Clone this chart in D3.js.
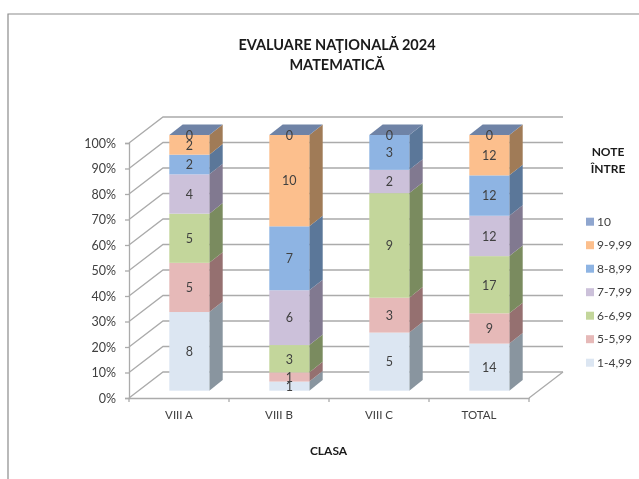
<!DOCTYPE html>
<html><head><meta charset="utf-8">
<script src="https://cdn.jsdelivr.net/npm/d3@7/dist/d3.min.js"></script>
<style>html,body{margin:0;padding:0;background:#fff}svg{display:block;font-family:Lato,"Open Sans",sans-serif;filter:blur(0.45px)}</style>
</head><body><svg id="c" width="639" height="479"></svg>
<script>
const categories = ["VIII A","VIII B","VIII C","TOTAL"];
const seriesNames = ["1-4,99","5-5,99","6-6,99","7-7,99","8-8,99","9-9,99","10"];
const s1 = [8,1,5,14];
const s5 = [5,1,3,9];
const s6 = [5,3,9,17];
const s7 = [4,6,2,12];
const s8 = [2,7,3,12];
const s9 = [2,10,null,12];
const s10 = [0,0,0,0];
const seriesValues = [s1,s5,s6,s7,s8,s9,s10];
const frontColors = ["#dce6f2","#e6b9b8","#c3d69b","#ccc1da","#8eb4e3","#fcbf8d","#8fa6cf"];
const sideColors = ["#89959f","#957070","#7a8b5f","#817990","#5b7799","#a07b57","#6f83a6"];
const legendTitle = ["NOTE","ÎNTRE"];
const titleLines = ["EVALUARE NAŢIONALĂ 2024","MATEMATICĂ"];
const xTitle = "CLASA";

const svg = d3.select("#c");
const grey = "#ababab", txt = "#404040";

// frame
svg.append("path").attr("d","M8,479V14H639").attr("fill","none").attr("stroke","#8c8c8c").attr("stroke-width",1.2);

// wall geometry
const x = d3.scaleBand().domain(categories).range([129,529]);
const y = d3.scaleLinear().domain([0,1]).range([398,143]);
const depth = {dx:34, dy:-26};
const ticks = d3.range(0,1.01,0.1);

// back wall + side wall gridlines
const grid = svg.append("g").attr("fill","none").attr("stroke",grey).attr("stroke-width",1.3);
ticks.forEach(t=>{
  grid.append("path").attr("d",`M129,${y(t)}L${129+depth.dx},${y(t)+depth.dy}H${529+depth.dx}`);
});
grid.append("path").attr("d",`M529,398L${529+depth.dx},${398+depth.dy}`);

// axes
const yAxis = d3.axisLeft(y).tickValues(ticks).tickFormat(d3.format(".0%")).tickSize(4).tickPadding(9);
const gy = svg.append("g").attr("transform","translate(129,0)").call(yAxis);
const xAxis = d3.axisBottom(x).tickValues(categories).tickSize(0).tickPadding(13);
const gx = svg.append("g").attr("transform","translate(0,398)").call(xAxis);
[gy,gx].forEach(g=>{
  g.selectAll("path.domain").attr("stroke",grey).attr("stroke-width",1.3);
  g.selectAll("line").attr("stroke",grey).attr("stroke-width",1.3);
  g.selectAll("text").attr("fill",txt);
});
gy.selectAll("text").attr("font-size",12.5).attr("font-family","Lato");
gx.selectAll("text").attr("font-size",11.5).attr("font-family","Lato");
gx.selectAll("line.boundary").data(d3.range(0,5)).enter().append("line").attr("class","boundary")
  .attr("x1",i=>129+i*x.step()).attr("x2",i=>129+i*x.step()).attr("y1",0).attr("y2",4)
  .attr("stroke",grey).attr("stroke-width",1.3);

// bars
const table = categories.map((c,i)=>{
  const o={cat:c}; seriesNames.forEach((s,j)=>o[s]=seriesValues[j][i]||0); return o;
});
const stacked = d3.stack().keys(seriesNames).offset(d3.stackOffsetExpand)(table);
const py = d3.scaleLinear().domain([0,1]).range([390.7,135]);
const bw = 40, bd = {dx:13.4, dy:-10.6};
const bx = c => x(c)+x.bandwidth()/2-9.7;
const bars = svg.append("g");
// side and front faces
stacked.forEach((layer,j)=>{
  layer.forEach(d=>{
    const c=d.data.cat, l=bx(c), r=l+bw, y0=py(d[0]), y1=py(d[1]);
    if(y0-y1<0.01) return;
    bars.append("path").attr("fill",sideColors[j])
      .attr("d",`M${r},${y0}L${r+bd.dx},${y0+bd.dy}V${y1+bd.dy}L${r},${y1}Z`);
    bars.append("rect").attr("x",l).attr("y",y1).attr("width",bw).attr("height",y0-y1).attr("fill",frontColors[j]);
  });
});
// top caps
categories.forEach(c=>{
  const l=bx(c), r=l+bw, t=py(1);
  bars.append("path").attr("fill",sideColors[6])
    .attr("d",`M${l},${t}L${l+bd.dx},${t+bd.dy}H${r+bd.dx}L${r},${t}Z`);
});
// labels
stacked.forEach((layer,j)=>{
  layer.forEach((d,i)=>{
    if(seriesValues[j][i]===null) return;
    bars.append("text").attr("x",bx(d.data.cat)+bw/2).attr("y",py((d[0]+d[1])/2)+4.8)
      .attr("text-anchor","middle").attr("font-size",12.5).attr("fill",txt)
      .text(seriesValues[j][i]);
  });
});

// titles
svg.append("g").selectAll("text").data(titleLines).enter().append("text")
  .attr("x",337).attr("y",(d,i)=>50+i*20).attr("text-anchor","middle")
  .attr("font-size",14.5).attr("font-weight",700).attr("fill","#1a1a1a").text(d=>d);
svg.append("text").attr("x",328.5).attr("y",455).attr("text-anchor","middle")
  .attr("font-size",12).attr("font-weight",700).attr("fill","#1a1a1a").text(xTitle);
svg.append("g").selectAll("text").data(legendTitle).enter().append("text")
  .attr("x",608).attr("y",(d,i)=>156+i*17).attr("text-anchor","middle")
  .attr("font-size",12).attr("font-weight",700).attr("fill","#1a1a1a").text(d=>d);

// legend
const ly = d3.scalePoint().domain(seriesNames.slice().reverse()).range([221.7,362.7]);
const lg = svg.append("g").selectAll("g").data(seriesNames).enter().append("g")
  .attr("transform",d=>`translate(586,${ly(d)})`);
lg.append("rect").attr("x",0).attr("y",-4).attr("width",8).attr("height",8)
  .attr("fill",(d,i)=>frontColors[i]);
lg.append("text").attr("x",11).attr("y",4.2).attr("font-size",12).attr("fill",txt).text(d=>d);
</script></body></html>
